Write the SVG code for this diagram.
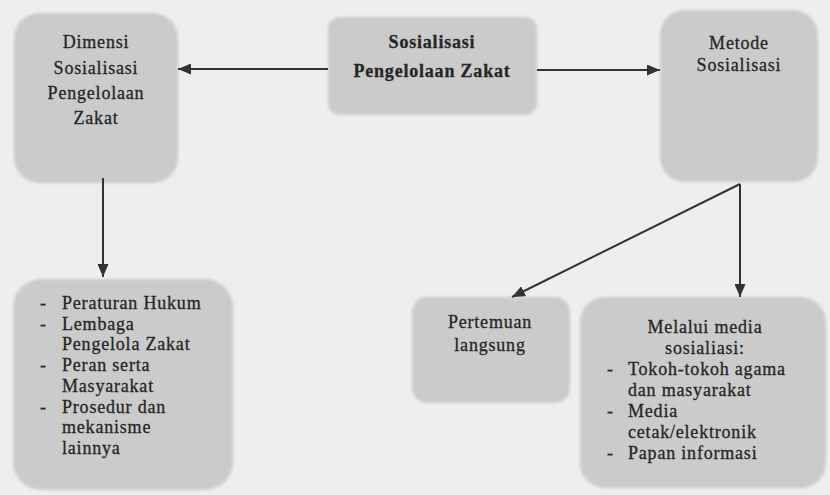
<svg xmlns="http://www.w3.org/2000/svg" width="830" height="495" viewBox="0 0 830 495">
<defs>
<style>
.box{fill:#cbcbcb;filter:url(#soft)}
.t{font-family:'Liberation Serif','Times New Roman',serif;font-size:18px;letter-spacing:0.8px;fill:#262626;stroke:#262626;stroke-width:0.3px}
.c{text-anchor:middle}
.b{font-weight:bold}
.ln{stroke:#333;stroke-width:2;fill:none;marker-end:url(#ah)}
</style>
<filter id="soft" x="-10%" y="-10%" width="120%" height="120%"><feGaussianBlur stdDeviation="1.5"/></filter>
<marker id="ah" viewBox="0 0 13 11" refX="13" refY="5.5" markerWidth="13" markerHeight="11" markerUnits="userSpaceOnUse" orient="auto"><path d="M0,0 L13,5.5 L0,11 z" fill="#333"/></marker>
</defs>
<rect width="830" height="495" fill="#eeeeee"/>
<g id="n-dimensi">
<rect class="box" x="14" y="13" width="164" height="170" rx="25"/>
<text class="t c" x="96" y="48">Dimensi</text>
<text class="t c" x="96" y="74">Sosialisasi</text>
<text class="t c" x="96" y="99">Pengelolaan</text>
<text class="t c" x="96" y="124">Zakat</text>
</g>
<g id="n-sosialisasi">
<rect class="box" x="328" y="17" width="209" height="98" rx="12"/>
<text class="t c b" x="432" y="48">Sosialisasi</text>
<text class="t c b" x="432" y="77">Pengelolaan Zakat</text>
</g>
<g id="n-metode">
<rect class="box" x="660" y="10" width="158" height="172" rx="25"/>
<text class="t c" x="739" y="49">Metode</text>
<text class="t c" x="739" y="71">Sosialisasi</text>
</g>
<g id="n-dimensi-list">
<rect class="box" x="13" y="279" width="220" height="211" rx="28"/>
<text class="t" x="40" y="309">-</text><text class="t" x="62" y="309">Peraturan Hukum</text>
<text class="t" x="40" y="330">-</text><text class="t" x="62" y="330">Lembaga</text>
<text class="t" x="62" y="350">Pengelola Zakat</text>
<text class="t" x="40" y="371">-</text><text class="t" x="62" y="371">Peran serta</text>
<text class="t" x="62" y="392">Masyarakat</text>
<text class="t" x="40" y="413">-</text><text class="t" x="62" y="413">Prosedur dan</text>
<text class="t" x="62" y="433">mekanisme</text>
<text class="t" x="62" y="454">lainnya</text>
</g>
<g id="n-pertemuan">
<rect class="box" x="412" y="297" width="158" height="106" rx="15"/>
<text class="t c" x="490" y="328">Pertemuan</text>
<text class="t c" x="490" y="351">langsung</text>
</g>
<g id="n-media">
<rect class="box" x="580" y="297" width="246" height="191" rx="25"/>
<text class="t c" x="705" y="333">Melalui media</text>
<text class="t c" x="705" y="354">sosialiasi:</text>
<text class="t" x="607" y="375">-</text><text class="t" x="628" y="375">Tokoh-tokoh agama</text>
<text class="t" x="628" y="396">dan masyarakat</text>
<text class="t" x="607" y="417">-</text><text class="t" x="628" y="417">Media</text>
<text class="t" x="628" y="438">cetak/elektronik</text>
<text class="t" x="607" y="459">-</text><text class="t" x="628" y="459">Papan informasi</text>
</g>
<g id="connectors">
<line class="ln" x1="328" y1="69" x2="178" y2="69"/>
<line class="ln" x1="537" y1="70" x2="660" y2="70"/>
<line class="ln" x1="103" y1="178" x2="103" y2="277"/>
<line class="ln" x1="740" y1="184" x2="740" y2="297"/>
<polyline class="ln" points="740,184 512,297"/>
</g>
</svg>
